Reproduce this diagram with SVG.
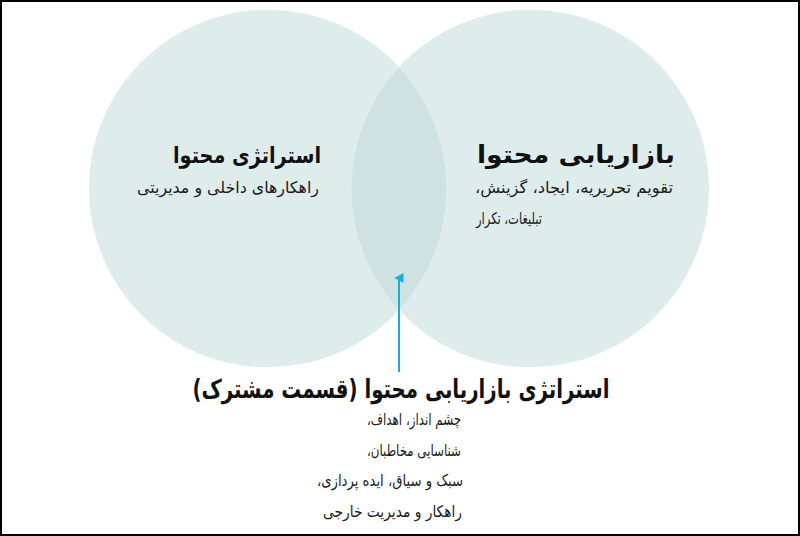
<svg xmlns="http://www.w3.org/2000/svg" width="800" height="536" viewBox="0 0 800 536">
<style>
text{font-family:"DejaVu Sans","Noto Sans",sans-serif;fill:#1b1b1b;direction:rtl;unicode-bidi:embed}
.h{font-weight:bold;font-size:23px;fill:#111}
.b{font-size:16px}
.circle{fill:#dfecec}
.lens{fill:#cfe2e2}
</style>
<defs>
<marker id="arr" markerWidth="10" markerHeight="10" refX="5" refY="5" orient="auto" markerUnits="userSpaceOnUse">
<path d="M0,9.5 L5,0.5 L10,9.5 Z" fill="#1aaed6"/>
</marker>
</defs>
<rect x="0" y="0" width="800" height="536" fill="#fff"/>
<g id="node-strategy">
<circle class="circle" cx="267.8" cy="188.5" r="178.8"/>
</g>
<g id="node-marketing">
<circle class="circle" cx="530.2" cy="188.5" r="178.8"/>
</g>
<g id="node-shared">
<path class="lens" d="M399,67.2 A178.8,178.8 0 0 1 399,309.8 A178.8,178.8 0 0 1 399,67.2 Z"/>
</g>
<g id="labels-strategy">
<text class="h" x="321" y="163" text-anchor="start" textLength="148" lengthAdjust="spacingAndGlyphs">استراتژی محتوا</text>
<text class="b" x="319" y="193" text-anchor="start" textLength="182" lengthAdjust="spacingAndGlyphs">راهکارهای داخلی و مدیریتی</text>
</g>
<g id="labels-marketing">
<text class="h" x="675" y="163" text-anchor="start" style="font-size:25px" textLength="198" lengthAdjust="spacingAndGlyphs">بازاریابی محتوا</text>
<text class="b" x="673" y="193" text-anchor="start" textLength="198" lengthAdjust="spacingAndGlyphs">تقویم تحریریه، ایجاد، گزینش،</text>
<text class="b" x="476" y="224" text-anchor="end" textLength="66" lengthAdjust="spacingAndGlyphs">تبلیغات، تکرار</text>
</g>
<g id="connectors">
<line x1="399" y1="372" x2="399" y2="278" stroke="#1aaed6" stroke-width="2" marker-end="url(#arr)"/>
</g>
<g id="labels-shared">
<text class="h" x="401" y="398" text-anchor="middle" style="font-size:26px" textLength="417" lengthAdjust="spacingAndGlyphs">استراتژی بازاریابی محتوا (قسمت مشترک)</text>
<text class="b" x="461" y="425" text-anchor="start" textLength="94" lengthAdjust="spacingAndGlyphs">چشم انداز، اهداف،</text>
<text class="b" x="461" y="456" text-anchor="start" textLength="94" lengthAdjust="spacingAndGlyphs">شناسایی مخاطبان،</text>
<text class="b" x="463" y="486" text-anchor="start" textLength="146" lengthAdjust="spacingAndGlyphs">سبک و سیاق، ایده پردازی،</text>
<text class="b" x="462" y="517" text-anchor="start" textLength="139" lengthAdjust="spacingAndGlyphs">راهکار و مدیریت خارجی</text>
</g>
<rect x="1" y="1" width="798" height="534" fill="none" stroke="#000" stroke-width="2"/>
</svg>
